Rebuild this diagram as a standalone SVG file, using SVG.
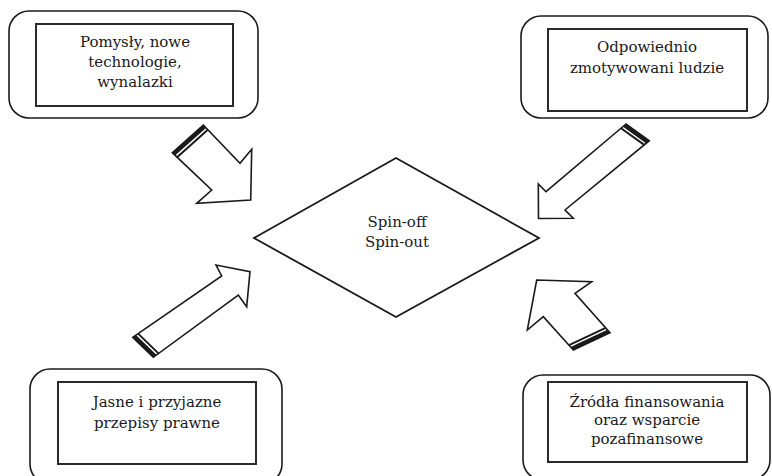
<svg xmlns="http://www.w3.org/2000/svg" width="772" height="476" viewBox="0 0 772 476">
  <style>
    .outer { fill: #fff; stroke: #1a1a1a; stroke-width: 1.6; }
    .inner { fill: #fff; stroke: #2a2a2a; stroke-width: 2; }
    .label { font-family: "DejaVu Serif", "Liberation Serif", serif; font-size: 15px; fill: #1a1a1a; text-anchor: middle; }
    .arrow { fill: #fff; stroke: #1a1a1a; stroke-width: 1.6; stroke-linejoin: miter; }
    .band { stroke: #1a1a1a; stroke-width: 4; }
    .band2 { stroke: #1a1a1a; stroke-width: 2; }
    .diamond { fill: #fff; stroke: #1a1a1a; stroke-width: 1.8; }
  </style>

  <rect width="772" height="476" fill="#fff"/>

  <!-- factor: ideas -->
  <g id="ideas">
    <rect class="outer" x="9" y="11" width="249" height="107" rx="20"/>
    <rect class="inner" x="36" y="24" width="197" height="82"/>
    <text class="label" x="135" y="47">Pomysły, nowe</text>
    <text class="label" x="135" y="67">technologie,</text>
    <text class="label" x="135" y="87">wynalazki</text>
  </g>

  <!-- factor: people -->
  <g id="people">
    <rect class="outer" x="521" y="16" width="247" height="102" rx="20"/>
    <rect class="inner" x="548" y="29" width="199" height="82"/>
    <text class="label" x="647" y="52">Odpowiednio</text>
    <text class="label" x="647" y="73">zmotywowani ludzie</text>
  </g>

  <!-- factor: law -->
  <g id="law">
    <rect class="outer" x="30" y="369" width="252" height="115" rx="20"/>
    <rect class="inner" x="58" y="382" width="198" height="82"/>
    <text class="label" x="157" y="407">Jasne i przyjazne</text>
    <text class="label" x="157" y="428">przepisy prawne</text>
  </g>

  <!-- factor: funding -->
  <g id="funding">
    <rect class="outer" x="523" y="375" width="247" height="105" rx="20"/>
    <rect class="inner" x="548" y="382" width="199" height="80"/>
    <text class="label" x="647" y="407">Źródła finansowania</text>
    <text class="label" x="647" y="425">oraz wsparcie</text>
    <text class="label" x="647" y="444">pozafinansowe</text>
  </g>

  <!-- central outcome -->
  <g id="spinoff">
    <polygon class="diamond" points="254,238 396,158 539,238 396,317"/>
    <text class="label" x="397" y="227">Spin-off</text>
    <text class="label" x="397" y="247">Spin-out</text>
  </g>

  <!-- block arrows pointing into the centre -->
  <g id="connectors">
    <g id="arrow-ideas">
      <polygon class="arrow" points="203.3,125 240,163.3 251.7,149.3 250.7,200 196.7,203.3 211.7,190 172.3,152.7"/>
      <line class="band" x1="173.7" y1="154.1" x2="204.7" y2="126.4"/>
      <line class="band2" x1="176.8" y1="157.4" x2="207.8" y2="129.7"/>
    </g>
    <g id="arrow-people">
      <polygon class="arrow" points="626,124 546,191.7 538.3,184 538.5,218.5 573.3,218.3 565,210 649.3,140.7"/>
      <line class="band" x1="624.5" y1="125.3" x2="647.8" y2="142"/>
      <line class="band2" x1="621" y1="128.2" x2="644.3" y2="144.9"/>
    </g>
    <g id="arrow-law">
      <polygon class="arrow" points="132.7,337.3 221.7,276 216,265 250,271.7 246.7,306.7 238.3,295 153.3,357.3"/>
      <line class="band" x1="134.3" y1="336.2" x2="155" y2="356.2"/>
      <line class="band2" x1="138.1" y1="333.6" x2="158.7" y2="353.6"/>
    </g>
    <g id="arrow-funding">
      <polygon class="arrow" points="573.3,350 543.3,316.7 527.3,330 536.7,280 591.7,281.7 575,293.3 610,332.7"/>
      <line class="band" x1="572" y1="348.5" x2="608.7" y2="331.2"/>
      <line class="band2" x1="569" y1="345.2" x2="605.7" y2="327.9"/>
    </g>
  </g>
</svg>
